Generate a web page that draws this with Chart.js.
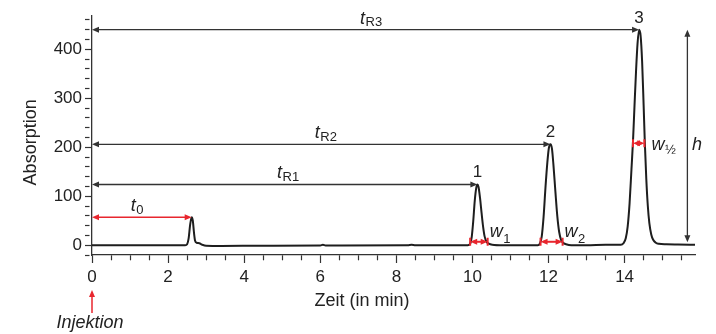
<!DOCTYPE html>
<html>
<head>
<meta charset="utf-8">
<title>Chromatogramm</title>
<script src="https://cdn.jsdelivr.net/npm/chart.js@4/dist/chart.umd.min.js"></script>
<style>
  html, body { margin: 0; padding: 0; background: #fff; }
  #wrap { width: 716px; height: 334px; }
</style>
</head>
<body>
<div id="wrap"><canvas id="myChart" width="716" height="334"></canvas></div>
<script>
// trace (time in min, absorption)
var time = [0, 1.0, 2.0, 2.45, 2.50, 2.54, 2.58, 2.62, 2.65, 2.68, 2.71, 2.75, 2.82, 2.90, 3.0, 3.4, 4.5,
  6.0, 6.07, 6.14, 8.3, 8.4, 8.5, 9.5,
  9.88, 9.94, 9.98, 10.02, 10.06, 10.10, 10.13, 10.16, 10.20, 10.24, 10.28, 10.32, 10.37, 10.43, 10.52, 10.8,
  11.5, 11.72, 11.77, 11.82, 11.87, 11.92, 11.97, 12.01, 12.05, 12.09, 12.13, 12.18, 12.23, 12.28, 12.33, 12.38, 12.46, 12.6,
  13.0, 13.5, 13.9, 13.97, 14.03, 14.08, 14.13, 14.18, 14.22, 14.26, 14.30, 14.34, 14.38, 14.42, 14.46, 14.50, 14.53,
  14.57, 14.61, 14.65, 14.70, 14.75, 14.82, 14.9, 15.1, 15.4, 15.85];
var absorption = [0, 0, 0, 0, 2, 14, 42, 57, 50, 26, 9, 5, 4, 1, -1, -1.5, -1,
  -0.5, 1, -0.5, 0, 1, 0, 0,
  0, 3, 16, 48, 90, 117, 124, 119, 96, 66, 38, 18, 7, 3, 1, 0,
  0, 0, 3, 17, 58, 118, 170, 199, 206, 197, 163, 110, 60, 27, 11, 5, 2, 0,
  0, 1, 1, 4, 14, 38, 85, 155, 212, 285, 355, 412, 440, 428, 375, 285, 212,
  135, 80, 45, 22, 11, 5, 3, 2, 1.5, 1];

var xLabels = [0, 2, 4, 6, 8, 10, 12, 14];
var yLabels = [0, 100, 200, 300, 400];

// peaks: dead time peak, then 1, 2, 3
var deadTime = 2.62, deadHeight = 57;
var peakTime = [10.13, 12.05, 14.38];
var peakHeight = [124, 206, 440];
var peakBase = [[9.94, 10.40], [11.79, 12.37]];
var halfWidth = [14.22, 14.52];
var halfLevel = 208;

var INK = '#333';
var RED = '#e8262e';
var FONT = '"Liberation Sans", Arial, sans-serif';

var xTicks = [], yTicks = [];
for (var i = 0; i <= 31; i++) xTicks.push(i * 0.5);
for (var j = -1; j <= 23; j++) yTicks.push(j * 20);

function head(ctx, x, y, ang, color) {
    ctx.save();
    ctx.translate(x, y);
    ctx.rotate(ang);
    ctx.beginPath();
    ctx.moveTo(0, 0);
    ctx.lineTo(-7, -3);
    ctx.lineTo(-7, 3);
    ctx.closePath();
    ctx.fillStyle = color;
    ctx.fill();
    ctx.restore();
}

function hArrow(ctx, x1, x2, y, color, width, bars) {
    ctx.strokeStyle = color;
    ctx.lineWidth = width;
    ctx.beginPath();
    ctx.moveTo(x1 + 3, y);
    ctx.lineTo(x2 - 3, y);
    ctx.stroke();
    head(ctx, x1, y, Math.PI, color);
    head(ctx, x2, y, 0, color);
    if (bars) {
        ctx.beginPath();
        ctx.moveTo(x1, y - 4); ctx.lineTo(x1, y + 4);
        ctx.moveTo(x2, y - 4); ctx.lineTo(x2, y + 4);
        ctx.stroke();
    }
}

function subLabel(ctx, main, sub, x, base, subBase, align) {
    ctx.font = 'italic 18px ' + FONT;
    var w1 = ctx.measureText(main).width;
    ctx.font = '13px ' + FONT;
    var w2 = ctx.measureText(sub).width;
    var left = align === 'center' ? x - (w1 + w2) / 2 : x;
    ctx.fillStyle = '#222';
    ctx.textAlign = 'left';
    ctx.textBaseline = 'alphabetic';
    ctx.font = 'italic 18px ' + FONT;
    ctx.fillText(main, left, base);
    ctx.font = '13px ' + FONT;
    ctx.fillText(sub, left + w1 + 0.5, subBase);
}

var annotations = {
    id: 'annotations',
    afterDatasetsDraw: function (chart) {
        var ctx = chart.ctx, xs = chart.scales.x, ys = chart.scales.y;
        var X = function (v) { return xs.getPixelForValue(v); };
        var Y = function (v) { return ys.getPixelForValue(v); };
        var area = chart.chartArea;
        ctx.save();

        // retention times
        var labelAt = [5.15, 6.14, 7.33];
        for (var k = 0; k < peakTime.length; k++) {
            var y = Y(peakHeight[k]);
            hArrow(ctx, X(0), X(peakTime[k]), y, INK, 1.3, false);
            subLabel(ctx, 't', 'R' + (k + 1), X(labelAt[k]), y - 6, y - 3.5, 'center');
            ctx.font = '17px ' + FONT;
            ctx.textAlign = 'center';
            ctx.fillStyle = '#222';
            ctx.fillText(String(k + 1), X(peakTime[k]), y - 7);
        }

        // dead time
        var y0 = Y(deadHeight);
        hArrow(ctx, X(0), X(deadTime), y0, RED, 1.5, false);
        subLabel(ctx, 't', '0', X(1.18), y0 - 6, y0 - 3.5, 'center');

        // peak widths at base
        for (var m = 0; m < peakBase.length; m++) {
            var yb = Y(7);
            hArrow(ctx, X(peakBase[m][0]), X(peakBase[m][1]), yb, RED, 2, true);
            subLabel(ctx, 'w', String(m + 1), X(peakBase[m][1]) + 2, yb - 5, yb + 1.5, 'left');
        }

        // half width
        var yh = Y(halfLevel);
        hArrow(ctx, X(halfWidth[0]), X(halfWidth[1]), yh, RED, 2, true);
        subLabel(ctx, 'w', '\u00bd', X(halfWidth[1]) + 7, yh + 6.5, yh + 10.5, 'left');

        // peak height
        var xh = X(15.65);
        ctx.strokeStyle = INK;
        ctx.lineWidth = 1.3;
        ctx.beginPath();
        ctx.moveTo(xh, Y(6) - 3);
        ctx.lineTo(xh, Y(peakHeight[2]) + 3);
        ctx.stroke();
        head(ctx, xh, Y(peakHeight[2]), -Math.PI / 2, INK);
        head(ctx, xh, Y(6), Math.PI / 2, INK);
        ctx.font = 'italic 18px ' + FONT;
        ctx.textAlign = 'center';
        ctx.fillStyle = '#222';
        ctx.fillText('h', xh + 9.5, yh + 6.5);

        // injection mark
        var xi = X(0);
        ctx.strokeStyle = RED;
        ctx.lineWidth = 1.5;
        ctx.beginPath();
        ctx.moveTo(xi, area.bottom + 58);
        ctx.lineTo(xi, area.bottom + 38);
        ctx.stroke();
        head(ctx, xi, area.bottom + 35, -Math.PI / 2, RED);
        ctx.font = 'italic 18px ' + FONT;
        ctx.fillStyle = '#222';
        ctx.fillText('Injektion', xi - 2, area.bottom + 73);

        // axis titles
        ctx.font = '18px ' + FONT;
        ctx.fillText('Zeit (in min)', X(7.1), area.bottom + 51);
        ctx.save();
        ctx.translate(31, Y(210));
        ctx.rotate(-Math.PI / 2);
        ctx.textBaseline = 'middle';
        ctx.fillText('Absorption', 0, 0);
        ctx.restore();

        ctx.restore();
    }
};

var points = time.map(function (t, n) { return { x: t, y: absorption[n] }; });

new Chart(document.getElementById('myChart'), {
    type: 'line',
    data: {
        datasets: [{
            data: points,
            borderColor: '#1e1e1e',
            borderWidth: 2,
            pointRadius: 0,
            cubicInterpolationMode: 'monotone',
            borderJoinStyle: 'round'
        }]
    },
    options: {
        responsive: false,
        animation: false,
        devicePixelRatio: 1,
        layout: { padding: { top: 16, right: 21, left: 0, bottom: 0 } },
        plugins: { legend: { display: false }, tooltip: { enabled: false } },
        scales: {
            x: {
                type: 'linear',
                min: 0,
                max: 15.85,
                afterFit: function (s) { s.height = 79; },
                afterBuildTicks: function (s) { s.ticks = xTicks.map(function (v) { return { value: v }; }); },
                grid: {
                    drawOnChartArea: false,
                    tickLength: 8,
                    tickColor: INK,
                    tickWidth: 1.2,
                    tickBorderDash: function (c) { return xLabels.indexOf(c.tick.value) >= 0 ? [] : [5, 40]; }
                },
                border: { color: INK, width: 1.3 },
                ticks: {
                    autoSkip: false,
                    maxRotation: 0,
                    minRotation: 0,
                    padding: 4,
                    color: '#222',
                    font: { family: FONT, size: 17 },
                    callback: function (v) { return xLabels.indexOf(v) >= 0 ? String(v) : ''; }
                }
            },
            y: {
                min: -20,
                max: 468,
                afterFit: function (s) { s.width = 92; },
                afterBuildTicks: function (s) { s.ticks = yTicks.map(function (v) { return { value: v }; }); },
                grid: {
                    drawOnChartArea: false,
                    tickLength: 7,
                    tickColor: INK,
                    tickWidth: 1.2,
                    tickBorderDash: function (c) { return yLabels.indexOf(c.tick.value) >= 0 ? [] : [4.5, 40]; }
                },
                border: { color: INK, width: 1.3 },
                ticks: {
                    autoSkip: false,
                    padding: 3,
                    color: '#222',
                    font: { family: FONT, size: 17 },
                    callback: function (v) { return yLabels.indexOf(v) >= 0 ? String(v) : ''; }
                }
            }
        }
    },
    plugins: [annotations]
});
</script>
</body>
</html>
